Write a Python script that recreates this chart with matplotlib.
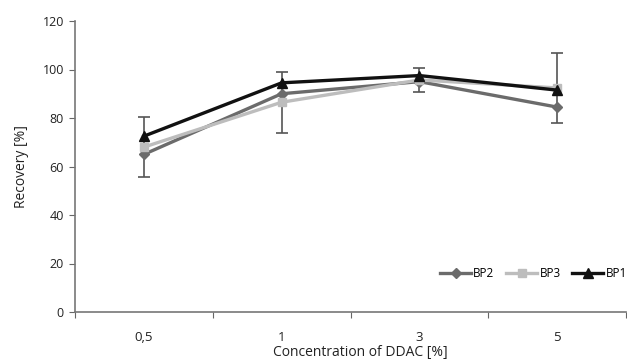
import matplotlib
matplotlib.use('Agg')
import matplotlib.pyplot as plt

# data
categories = ['0,5', '1', '3', '5']
bp2 = [65.0, 90.0, 95.0, 84.5]
bp3 = [68.0, 86.5, 95.7, 92.4]
bp1 = [72.5, 94.5, 97.5, 91.5]
bp3_err = [12.5, 12.5, 4.8, 14.3]
y_ticks = [0, 20, 40, 60, 80, 100, 120]

plt.rcParams['font.family'] = ['Open Sans', 'DejaVu Sans']

fig = plt.figure(figsize=(6.27, 3.61), dpi=100)
ax = fig.add_axes([75 / 627, 49 / 361, 551 / 627, 291 / 361])

x = list(range(len(categories)))

ax.errorbar(x, bp3, yerr=bp3_err, fmt='none', ecolor='#555555',
            elinewidth=1.2, capsize=4, capthick=1.2, zorder=1)
ax.plot(x, bp2, color='#6b6b6b', lw=2.4, marker='D', ms=5, label='BP2', zorder=2)
ax.plot(x, bp3, color='#bdbdbd', lw=2.4, marker='s', ms=6, label='BP3', zorder=3)
ax.plot(x, bp1, color='#111111', lw=2.4, marker='^', ms=7, label='BP1', zorder=4)

ax.set_xlim(-0.5, len(categories) - 0.5)
ax.set_ylim(0, 120)
ax.set_yticks(y_ticks)
ax.set_yticklabels([str(v) for v in y_ticks], fontsize=9, color='#222222')

# category ticks between groups, labels centred (Excel style)
ax.set_xticks([i - 0.5 for i in range(len(categories) + 1)])
ax.set_xticklabels([])
ax.set_xticks(x, minor=True)
ax.set_xticklabels(categories, minor=True, fontsize=9.5, color='#222222')
ax.tick_params(axis='x', which='minor', length=0, pad=14)
ax.tick_params(axis='x', which='major', length=4, direction='out', color='#666666')
ax.tick_params(axis='y', length=4, direction='out', color='#666666', pad=4)

for side in ['top', 'right']:
    ax.spines[side].set_visible(False)
for side in ['left', 'bottom']:
    ax.spines[side].set_color('#777777')
    ax.spines[side].set_linewidth(1.2)

ax.set_xlabel('Concentration of DDAC [%]', fontsize=10, color='#222222')
ax.xaxis.set_label_coords(0.517, -0.115)
ax.set_ylabel('Recovery [%]', fontsize=10, color='#222222', labelpad=10)

ax.legend(loc='lower right', bbox_to_anchor=(1.01, 0.095), ncol=3, frameon=False,
          fontsize=8.5, handlelength=2.6, handletextpad=0.2, columnspacing=1.0,
          borderaxespad=0)

fig.savefig('out.png', dpi=100)
